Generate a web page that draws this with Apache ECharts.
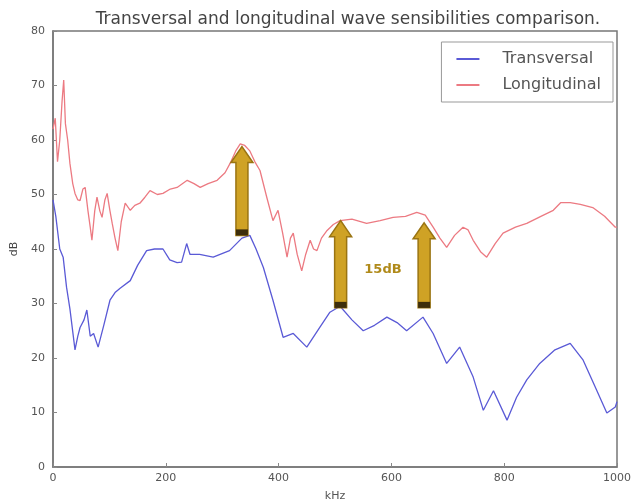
<!DOCTYPE html>
<html><head><meta charset="utf-8">
<script src="https://cdn.jsdelivr.net/npm/echarts@6/dist/echarts.min.js"></script>
<style>html,body{margin:0;padding:0;background:#fff}#c{width:634px;height:502px}</style>
</head><body><div id="c"></div>
<script>
const titleText = 'Transversal and longitudinal wave sensibilities comparison.';
const seriesNames = ['Transversal', 'Longitudinal'];
const xTicks = [0, 200, 400, 600, 800, 1000];
const yTicks = [0, 10, 20, 30, 40, 50, 60, 70, 80];

const transversal = [[0,49],[5,46],[12,40],[18,38.5],[24,33],[30,29],[36,24],[39,21.5],[44,24],[48,25.6],[55,27],[60,28.8],[66,24],[72,24.5],[80,22],[90,26],[101,30.6],[110,32],[119,32.8],[137,34.2],[150,37],[166,39.7],[180,40],[195,40],[207,38],[220,37.5],[228,37.6],[237,41],[243,39],[260,39],[284,38.5],[313,39.7],[335,42],[349,42.5],[360,40],[373,36.6],[390,30.6],[408,23.8],[426,24.5],[450,22],[473,25.6],[491,28.4],[509,29.5],[530,27],[550,25],[570,26],[592,27.5],[610,26.5],[627,25],[656,27.5],[674,24.5],[698,19],[721,22],[745,16.5],[763,10.4],[781,14],[805,8.6],[822,12.8],[840,16],[863,19],[890,21.5],[917,22.7],[940,19.6],[960,15],[982,9.9],[997,11],[1000,12]];

const longitudinal = [[0,62],[4,64],[8,56],[12,60],[16,67],[19,71],[22,63],[26,60],[30,55.7],[35,52],[39,50.2],[44,49],[48,48.9],[53,51],[57,51.3],[62,47],[66,44],[69,41.6],[74,47],[78,49.5],[83,47],[87,45.8],[92,49],[96,50.2],[101,47],[105,44.7],[110,42],[115,39.7],[121,45],[128,48.4],[137,47.1],[145,48],[154,48.4],[163,49.5],[172,50.7],[185,50],[195,50.2],[208,51],[220,51.3],[238,52.6],[250,52],[261,51.3],[275,52],[291,52.6],[305,54],[314,55.7],[324,58],[332,59.3],[340,59],[349,58],[358,56],[367,54.4],[379,49.5],[390,45.2],[399,47.1],[407,43],[415,38.5],[421,42],[426,42.9],[433,39],[441,36],[448,39],[456,41.6],[462,40],[468,39.7],[476,42],[486,43.4],[497,44.5],[509,45.2],[530,45.5],[556,44.7],[580,45.2],[603,45.8],[625,46],[645,46.7],[660,46.2],[674,44],[686,42],[698,40.3],[712,42.5],[727,44],[736,43.5],[745,41.6],[758,39.5],[769,38.5],[784,41],[798,42.9],[820,44],[840,44.7],[865,46],[887,47.1],[900,48.5],[917,48.5],[935,48.2],[957,47.6],[978,46],[997,44],[1000,44]];

// annotation arrows: x position, base value, tip value
const arrowX = [335, 510, 658];
const arrowFrom = [42.5, 29.2, 29.2];
const arrowTo = [58.8, 45.2, 44.8];
const noteLabel = '15dB';
const notePos = [[585, 36.2]];

const chart = echarts.init(document.getElementById('c'), null, {renderer: 'canvas'});
const arrowData = arrowX.map((x, i) => [x, arrowFrom[i], arrowTo[i]]);
const axisFont = {fontFamily: 'DejaVu Sans', fontSize: 11, color: '#555'};

chart.setOption({
  animation: false,
  backgroundColor: '#fff',
  title: {
    text: titleText, left: 343, top: 6, textAlign: 'center',
    textStyle: {fontFamily: 'DejaVu Sans', fontSize: 17, fontWeight: 'normal', color: '#444'}
  },
  legend: {
    data: seriesNames.map(n => ({name: n, icon: 'rect'})),
    orient: 'vertical', right: 21, top: 42,
    borderColor: '#999', borderWidth: 1, padding: [9, 12, 9, 15],
    itemGap: 10, itemWidth: 23, itemHeight: 2,
    textStyle: {fontFamily: 'DejaVu Sans', fontSize: 16, color: '#555', padding: [0, 0, 0, 18]}
  },
  grid: {left: 53, right: 17, top: 31, bottom: 35, outerBoundsMode: 'none', containLabel: false},
  xAxis: {
    type: 'value', min: 0, max: 1000, interval: 200,
    name: 'kHz', nameLocation: 'middle', nameGap: 24,
    nameTextStyle: {fontFamily: 'DejaVu Sans', fontSize: 11, color: '#555'},
    axisLine: {show: true, lineStyle: {color: '#777', width: 1.5}},
    axisTick: {show: true, inside: true, length: 4, lineStyle: {color: '#888'}},
    axisLabel: Object.assign({margin: 6, formatter: v => String(v)}, axisFont),
    splitLine: {show: false}
  },
  yAxis: {
    type: 'value', min: 0, max: 80, interval: 10,
    name: 'dB', nameLocation: 'middle', nameGap: 28, nameRotate: 90,
    nameTextStyle: {fontFamily: 'DejaVu Sans', fontSize: 11, color: '#444'},
    axisLine: {show: true, lineStyle: {color: '#777', width: 1.5}},
    axisTick: {show: true, inside: true, length: 4, lineStyle: {color: '#888'}},
    axisLabel: Object.assign({margin: 8}, axisFont),
    splitLine: {show: false}
  },
  series: [
    {
      name: seriesNames[0], type: 'line', data: transversal, showSymbol: false, smooth: false,
      lineStyle: {color: '#5a5ad6', width: 1.3}, itemStyle: {color: '#5a5ad6'}, z: 3
    },
    {
      name: seriesNames[1], type: 'line', data: longitudinal, showSymbol: false, smooth: false,
      lineStyle: {color: '#ec7a82', width: 1.3}, itemStyle: {color: '#ec7a82'}, z: 3
    },
    {
      type: 'custom', data: arrowData, z: 5, silent: true,
      renderItem: function (params, api) {
        const b = api.coord([api.value(0), api.value(1)]);
        const t = api.coord([api.value(0), api.value(2)]);
        const cx = b[0], sw = 6, hw = 11, hh = 16;
        const pts = [[cx - sw, b[1]], [cx - sw, t[1] + hh], [cx - hw, t[1] + hh], [cx, t[1]],
                     [cx + hw, t[1] + hh], [cx + sw, t[1] + hh], [cx + sw, b[1]]];
        return {type: 'group', children: [
          {type: 'polygon', shape: {points: pts},
           style: {fill: '#cfa225', stroke: '#9a7412', lineWidth: 1.5}},
          {type: 'rect', shape: {x: cx - sw, y: b[1] - 6, width: sw * 2, height: 6},
           style: {fill: '#3d2e0c'}}
        ]};
      }
    },
    {
      type: 'custom', data: notePos, z: 6, silent: true,
      renderItem: function (params, api) {
        const p = api.coord([api.value(0), api.value(1)]);
        return {type: 'text', x: p[0], y: p[1],
          style: {text: noteLabel, fill: '#b08a1a', font: 'bold 13px DejaVu Sans',
                  align: 'center', verticalAlign: 'middle'}};
      }
    }
  ]
});
chart.setOption({graphic: [{
  type: 'rect', shape: {x: 53, y: 31, width: 564, height: 436},
  style: {fill: 'none', stroke: '#777', lineWidth: 1.5}, silent: true, z: 0
}]});
</script></body></html>
